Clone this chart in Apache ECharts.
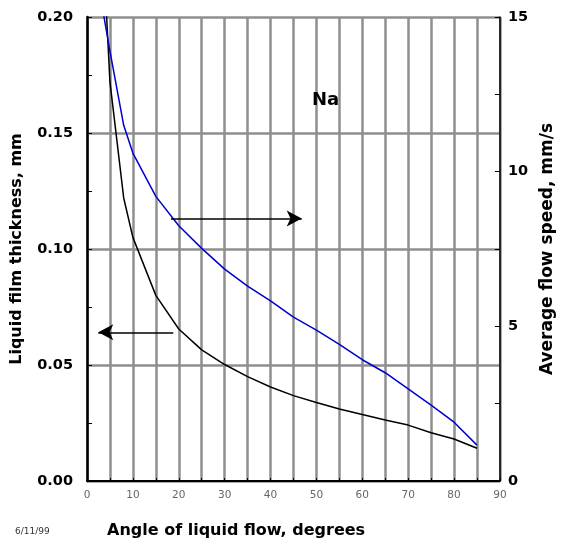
<!DOCTYPE html>
<html><head><meta charset="utf-8">
<script src="https://cdn.jsdelivr.net/npm/echarts@6/dist/echarts.min.js"></script>
<style>html,body{margin:0;padding:0;background:#fff}#c{width:564px;height:539px}</style>
</head><body><div id="c"></div>
<script>
// Data
const angles    = [3, 5, 8, 10, 15, 20, 25, 30, 35, 40, 45, 50, 55, 60, 65, 70, 75, 80, 85];
const thickness = [0.25, 0.172, 0.122, 0.105, 0.080, 0.0655, 0.0565, 0.0502, 0.045, 0.0405, 0.0368, 0.0338, 0.031, 0.0287, 0.0263, 0.0241, 0.0208, 0.0181, 0.0141];
const speed     = [15.6, 13.9, 11.5, 10.6, 9.2, 8.25, 7.52, 6.85, 6.3, 5.82, 5.3, 4.88, 4.42, 3.92, 3.5, 2.98, 2.45, 1.9, 1.16];
const xTicks = [0, 10, 20, 30, 40, 50, 60, 70, 80, 90];
// arrow annotations in data units
const leftArrowFrom = [18.8, 0.0641], leftArrowTo = [2.46, 0.0641];
const rightArrowFrom = [18.3, 8.49], rightArrowTo = [46.8, 8.49];

const FONT = '"DejaVu Sans", sans-serif';
const gridColor = '#8f8f8f';

const chart = echarts.init(document.getElementById('c'), null, {renderer: 'canvas'});
chart.setOption({
  animation: false,
  backgroundColor: '#fff',
  title: [
    {text: 'Angle of liquid flow, degrees', left: 102, top: 518,
     textStyle: {fontFamily: FONT, fontSize: 16, fontWeight: 'bold', color: '#000'}},
    {text: '6/11/99', left: 10, top: 522,
     textStyle: {fontFamily: FONT, fontSize: 9, fontWeight: 'normal', color: '#333'}},
    {text: 'Na', left: 307, top: 86,
     textStyle: {fontFamily: FONT, fontSize: 18, fontWeight: 'bold', color: '#000'}}
  ],
  grid: {left: 87, top: 17, width: 413, height: 464, containLabel: false},
  xAxis: {
    type: 'value', min: 0, max: 90, interval: 5,
    axisLine: {show: true, lineStyle: {color: '#000', width: 2}},
    axisTick: {show: true, inside: true, length: 3, lineStyle: {color: '#000'}},
    axisLabel: {margin: 9, fontFamily: FONT, fontSize: 10.5, color: '#666',
      formatter: v => (xTicks.indexOf(v) >= 0 ? String(v) : '')},
    splitLine: {show: true, lineStyle: {color: gridColor, width: 2.5}}
  },
  yAxis: [
    {
      type: 'value', min: 0, max: 0.2, interval: 0.05, position: 'left',
      name: 'Liquid film thickness, mm', nameLocation: 'middle', nameGap: 62, nameRotate: 90,
      nameTextStyle: {fontFamily: FONT, fontSize: 16, fontWeight: 'bold', color: '#000'},
      axisLine: {show: true, lineStyle: {color: '#000', width: 2.5}},
      axisTick: {show: true, inside: true, length: 5, lineStyle: {color: '#000'}},
      minorTick: {show: true, splitNumber: 2, length: 5, lineStyle: {color: '#000'}},
      axisLabel: {margin: 14, fontFamily: FONT, fontSize: 14.5, fontWeight: 'bold', color: '#000',
        formatter: v => v.toFixed(2)},
      splitLine: {show: true, lineStyle: {color: gridColor, width: 2.5}}
    },
    {
      type: 'value', min: 0, max: 15, interval: 5, position: 'right',
      name: 'Average flow speed, mm/s', nameLocation: 'middle', nameGap: 31, nameRotate: 90,
      nameTextStyle: {fontFamily: FONT, fontSize: 17, fontWeight: 'bold', color: '#000'},
      axisLine: {show: true, lineStyle: {color: '#000', width: 1.5}},
      axisTick: {show: true, inside: true, length: 5, lineStyle: {color: '#000'}},
      minorTick: {show: true, splitNumber: 2, length: 5, lineStyle: {color: '#000'}},
      axisLabel: {margin: 8, fontFamily: FONT, fontSize: 14.5, fontWeight: 'bold', color: '#000'},
      splitLine: {show: false}
    }
  ],
  series: [
    {
      type: 'line', name: 'thickness', yAxisIndex: 0, clip: true,
      data: angles.map((a, i) => [a, thickness[i]]),
      showSymbol: false, symbol: 'none',
      lineStyle: {color: '#000', width: 1.5},
      markLine: {
        silent: true, symbol: ['none', 'arrow'], symbolSize: [12, 15],
        label: {show: false},
        lineStyle: {color: '#000', width: 1.5, type: 'solid'},
        data: [[{coord: leftArrowFrom}, {coord: leftArrowTo}]]
      }
    },
    {
      type: 'line', name: 'speed', yAxisIndex: 1, clip: true,
      data: angles.map((a, i) => [a, speed[i]]),
      showSymbol: false, symbol: 'none',
      lineStyle: {color: '#0000cc', width: 1.5},
      markLine: {
        silent: true, symbol: ['none', 'arrow'], symbolSize: [12, 15],
        label: {show: false},
        lineStyle: {color: '#000', width: 1.5, type: 'solid'},
        data: [[{coord: rightArrowFrom}, {coord: rightArrowTo}]]
      }
    }
  ]
});
</script>
</body></html>
